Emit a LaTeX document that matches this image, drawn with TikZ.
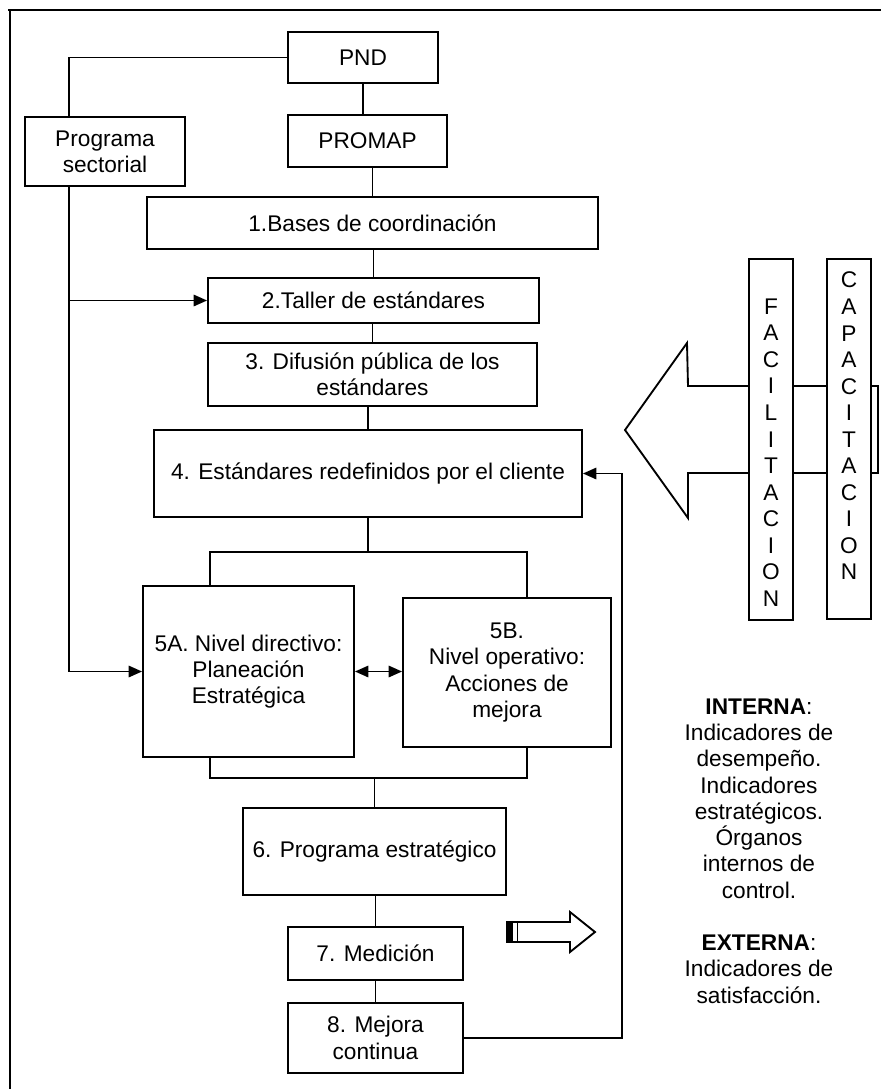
\documentclass[tikz,border=0pt]{standalone}
\usepackage{fontspec}
\setmainfont{Liberation Sans}
\usetikzlibrary{arrows.meta, calc}
\newcommand{\pxu}{0.75pt}
\tikzset{
  every picture/.style={line width=1.4pt, font=\fontsize{17}{19.7}\selectfont},
  box/.style 2 args={draw, fill=white, align=center, inner sep=2pt, minimum width=#1*\pxu, minimum height=#2*\pxu},
  arrow/.style={-{Triangle[length=10pt, width=8.5pt]}},
  dblarrow/.style={{Triangle[length=10pt, width=8.5pt]}-{Triangle[length=10pt, width=8.5pt]}},
  vtext/.style={align=center, font=\fontsize{17}{19.9}\selectfont},
  note/.style={align=center},
}

\begin{document}
\begin{tikzpicture}[x=\pxu, y=-\pxu]
  \useasboundingbox (0,0) rectangle (881,1089);
  % marco
  \draw (8,10) -- (881,10);
  \draw (10,10) -- (10,1089);
  % flecha grande
  \draw[fill=white] (625,430) -- (687,343) -- (688,386) -- (878,386) -- (878,473) -- (688,473) -- (688,518) -- cycle;
  \node[box={44}{361}] (facil) at (771,439.5) {};
  \node[box={44}{360}] (capac) at (849,439) {};
  \node[vtext] (facilt) at (771,452.5) {F\\A\\C\\I\\L\\I\\T\\A\\C\\I\\O\\N};
  \node[vtext] (capact) at (849,426) {C\\A\\P\\A\\C\\I\\T\\A\\C\\I\\O\\N};

  \node[box={150}{51}] (pnd) at (363,57.5) {PND};
  \node[box={159}{52}] (promap) at (367.5,141) {PROMAP};
  \node[box={160}{69}] (progsec) at (105,151.5) {Programa\\sectorial};
  \node[box={451}{52}] (bases) at (372.5,223) {1.Bases de coordinación};
  \node[box={331}{45}] (taller) at (373.5,300.5) {2.Taller de estándares};
  \node[box={329}{63}] (difusion) at (372.5,374.5) {3. Difusión pública de los\\estándares};
  \node[box={428}{87}] (redef) at (368,473.5) {4. Estándares redefinidos por el cliente};
  \node[box={211}{171}] (directivo) at (248.5,671.5) {5A. Nivel directivo:\\Planeación\\Estratégica};
  \node[box={208}{149}] (operativo) at (507,672.5) {5B.\\Nivel operativo:\\Acciones de\\mejora};
  \node[box={263}{87}] (progest) at (374.5,851.5) {6. Programa estratégico};
  \node[box={175}{53}] (medicion) at (375.5,953.5) {7. Medición};
  \node[box={175}{70}] (mejora) at (375.5,1038) {8. Mejora\\continua};

  \node[note] (indic) at (759,851) {\textbf{INTERNA}:\\Indicadores de\\desempeño.\\Indicadores\\estratégicos.\\Órganos\\internos de\\control.\\[19.7pt]\textbf{EXTERNA}:\\Indicadores de\\satisfacción.};

  % tronco del programa sectorial
  \coordinate (tr) at (69,0);
  \draw (pnd.west) -| (progsec.north -| tr);
  \draw[arrow] (progsec.south -| tr) |- (directivo.west);
  \draw[arrow] (tr |- taller.west) -- (taller.west);

  % cadena central
  \draw (pnd.south) -- (pnd.south |- promap.north);
  \draw (bases.north) -- (bases.north |- promap.south);
  \draw (taller.north) -- (taller.north |- bases.south);
  \draw (difusion.north) -- (difusion.north |- taller.south);
  \draw (redef.north) -- (redef.north |- difusion.south);

  % corchetes del paso 5
  \coordinate (la) at (210,552);
  \coordinate (lb) at (527,552);
  \coordinate (da) at (210,778);
  \coordinate (db) at (527,778);
  \draw (redef.south) -- (redef.south |- la);
  \draw (la |- directivo.north) -- (la) -- (lb) -- (lb |- operativo.north);
  \draw (da |- directivo.south) -- (da) -- (db) -- (db |- operativo.south);
  \draw (progest.north) -- (progest.north |- da);
  \draw[dblarrow] (directivo.east) -- (directivo.east -| operativo.west);

  \draw (medicion.north) -- (medicion.north |- progest.south);
  \draw (mejora.north) -- (medicion.south);

  % retroalimentacion
  \coordinate (fb) at (622,0);
  \draw[arrow] (mejora.east) -| (fb |- redef.east) -- (redef.east);

  % flecha chica
  \draw (507,922) -- (570,922) -- (570,912) -- (595,932) -- (570,952) -- (570,942) -- (507,942) -- cycle;
  \fill (507,922) rectangle (513,942);
  \draw[line width=0.6pt] (517,922) -- (517,942);
\end{tikzpicture}
\end{document}
